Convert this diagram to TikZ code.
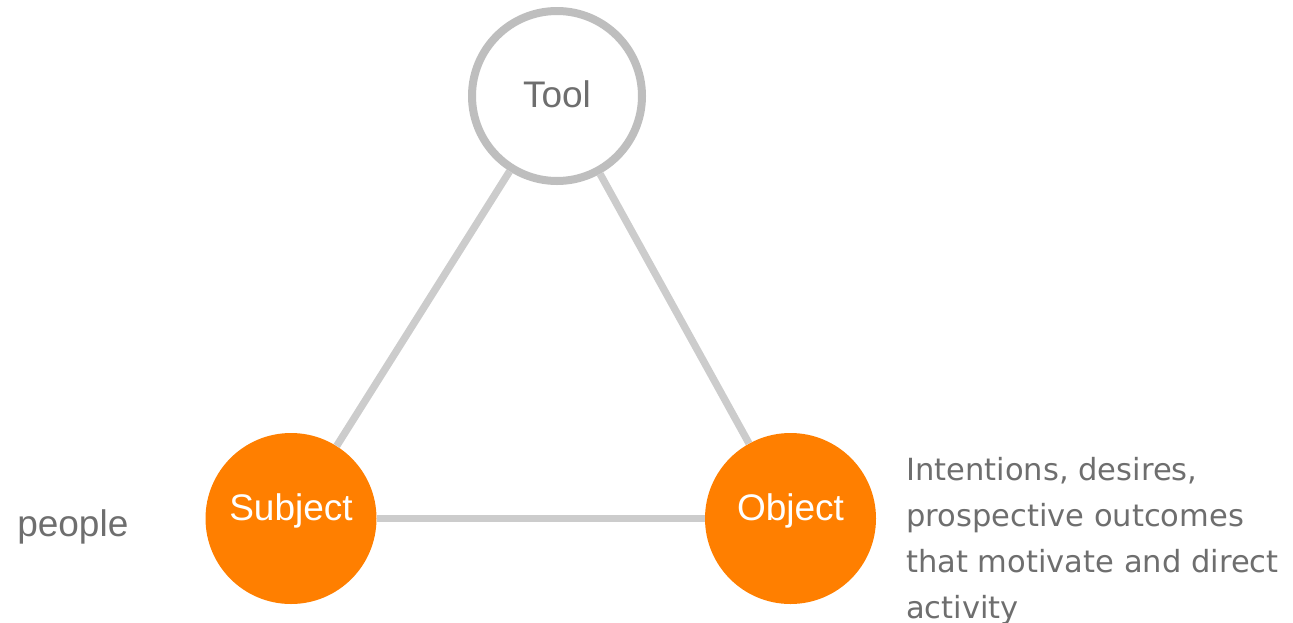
\documentclass[tikz,border=0pt]{standalone}
\usepackage{fontspec}
\setmainfont{Liberation Sans}
\newfontfamily\notefont{DejaVu Sans}
\definecolor{orng}{HTML}{FF7F00}
\definecolor{ringgray}{HTML}{BEBEBE}
\definecolor{linegray}{HTML}{CCCCCC}
\definecolor{txtgray}{HTML}{6E6E6E}
\begin{document}
\begin{tikzpicture}[x=0.75pt,y=-0.75pt,
  bigfont/.style={font=\fontsize{27.75}{33}\selectfont},
  toolnode/.style={circle,draw=ringgray,line width=6pt,fill=white,minimum size=127.5pt,inner sep=0pt,bigfont,text=txtgray},
  orangenode/.style={circle,fill=orng,minimum size=128.25pt,inner sep=0pt},
  innerlabel/.style={bigfont,text=white,inner sep=0pt},
  link/.style={draw=linegray,line width=5.5pt},
  note/.style={text=txtgray,inner sep=0pt}]
\useasboundingbox (0,0) rectangle (1293,622);
\node[toolnode] (tool) at (557,96) {};
\node[bigfont,text=txtgray,inner sep=0pt] (toollab) at (557,94) {Tool};
\node[orangenode] (subj) at (291,518.5) {};
\node[orangenode] (obj) at (790.5,518.5) {};
\node[innerlabel] (subjlab) at (291,511) {Subject};
\node[innerlabel] (objlab) at (790.5,511) {Object};
\path[link] (tool) -- (subj);
\path[link] (tool) -- (obj);
\path[link] (subj) -- (obj);
\node[note,bigfont,anchor=base west] (people) at (17,536) {people};
\node[note,anchor=base west,align=left,font=\notefont\fontsize{22.9}{34.5}\selectfont] (objnote) at (906,618) {Intentions, desires,\\prospective outcomes\\that motivate and direct\\activity};
\end{tikzpicture}
\end{document}
